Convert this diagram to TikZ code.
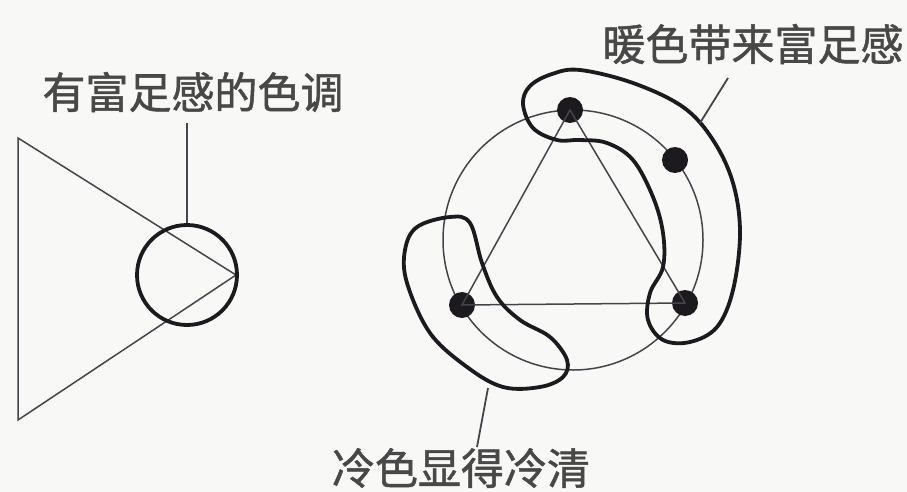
\documentclass[tikz,border=0pt]{standalone}
\usepackage{fontspec}
\newfontfamily\cjk[FakeBold=1.2]{Noto Sans CJK SC}
\usetikzlibrary{positioning}
\definecolor{paper}{RGB}{248,248,246}
\definecolor{ink}{RGB}{28,26,30}
\definecolor{pencil}{RGB}{70,68,74}
\definecolor{labelgray}{RGB}{72,72,72}

\begin{document}
\begin{tikzpicture}[x=1pt, y=-1pt,
  thinline/.style={draw=pencil, line width=1.5pt},
  thickline/.style={draw=ink, line width=3.8pt, line join=round},
  dot/.style={circle, fill=ink, inner sep=0pt, minimum size=26pt},
  tag/.style={font=\cjk\fontsize{43}{50}\selectfont, text=labelgray, inner sep=0pt},
  lead/.style={draw=pencil, line width=1.8pt}
]
\useasboundingbox[fill=paper] (0,0) rectangle (907,492);

% left part: triangle with the circle at its tip
\coordinate (ta) at (18,138);
\coordinate (tb) at (18,420);
\coordinate (tc) at (236,275);
\draw[thinline] (ta) -- (tb) -- (tc) -- cycle;
\node[circle, thickline, minimum size=100pt, inner sep=0pt] (lc) at (187,275) {};
\node[tag] (rich) at (193,92) {有富足感的色调};
\coordinate (richend) at (187,123);
\draw[lead] (lc.north) -- (richend);

% right part: colour circle with triangle and dots
\coordinate (o) at (573,240);
\draw[thinline] (o) circle (130);
\node[dot] (d1) at (570,110) {};
\node[dot] (d2) at (675,160) {};
\node[dot] (d3) at (685,303) {};
\node[dot] (d4) at (462,305) {};
\draw[thinline] (d1.center) -- (d3.center) -- (d4.center) -- cycle;

% warm group
\draw[thickline] plot[smooth cycle, tension=0.6] coordinates {
  (523,104) (530,86) (552,74) (580,70) (633,83) (683,107) (713,140)
  (733,183) (740,233) (733,290) (717,327) (690,342) (663,340) (648,320)
  (650,293) (663,267) (663,233) (653,197) (633,160) (607,143) (580,140)
  (557,140) (533,128)};
% cool group
\draw[thickline] plot[smooth cycle, tension=0.6] coordinates {
  (450,217) (470,223) (482,263) (497,297) (520,320) (550,337) (567,360)
  (563,377) (540,387) (503,387) (467,367) (430,333) (407,283) (405,250)
  (417,227)};

% labels
\node[tag] (warm) at (753,44) {暖色带来富足感};
\coordinate (warmfoot) at (700,123);
\coordinate (warmend) at (728,78);
\draw[lead] (warmfoot) -- (warmend);

\node[tag] (cool) at (461,468) {冷色显得冷清};
\coordinate (coolfoot) at (488,388);
\coordinate (coolend) at (477,447);
\draw[lead] (coolfoot) -- (coolend);
\end{tikzpicture}
\end{document}
